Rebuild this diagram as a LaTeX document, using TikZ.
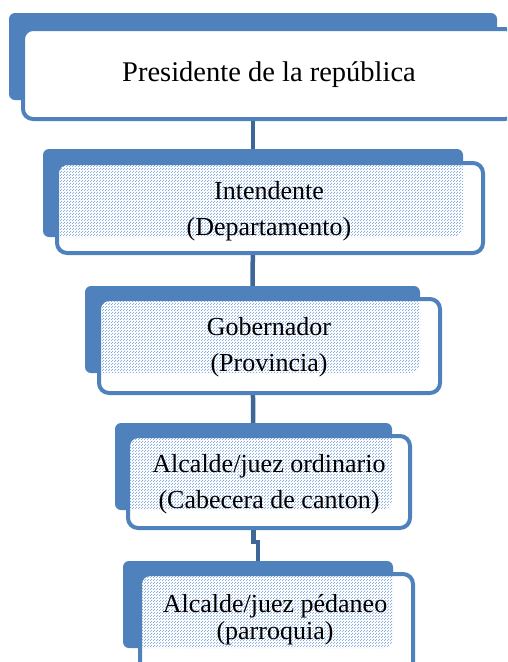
\documentclass[tikz,border=0pt]{standalone}
\usepackage{fontspec}
\setmainfont{Liberation Serif}
\usetikzlibrary{patterns,backgrounds}
\definecolor{boxblue}{RGB}{79,129,189}
\definecolor{linkblue}{RGB}{62,102,150}
\definecolor{dotblue}{RGB}{140,175,225}
\pgfdeclarepatternformonly{bluedots}{\pgfpointorigin}{\pgfpoint{3pt}{3pt}}{\pgfpoint{3pt}{3pt}}{%
  \pgfpathrectangle{\pgfpointorigin}{\pgfpoint{1.2pt}{1.2pt}}%
  \pgfpathrectangle{\pgfpoint{1.5pt}{1.5pt}}{\pgfpoint{1.2pt}{1.2pt}}%
  \pgfusepath{fill}}
\begin{document}
\begin{tikzpicture}[x=1pt,y=-1pt,
  backbox/.style={fill=boxblue, rounded corners=6pt, inner sep=0pt, outer sep=0pt},
  frontbox/.style={draw=boxblue, line width=4pt, fill=white, rounded corners=10pt, inner sep=0pt},
  dotfill/.style={path picture={\fill[pattern=bluedots, pattern color=dotblue] (#1.north west) rectangle (#1.south east);}},
  boxtext/.style={font=\fontsize{26}{36}\selectfont, align=center, inner sep=0pt},
  link/.style={draw=linkblue, line width=4.5pt}]
\useasboundingbox (0,0) rectangle (507,662);
\clip (0,0) rectangle (507,662);

% back (shadow) boxes
\node[backbox, minimum width=488pt, minimum height=87pt] (b1) at (253,56.5) {};
\node[backbox, minimum width=420pt, minimum height=88pt] (b2) at (253,193) {};
\node[backbox, minimum width=335pt, minimum height=87pt] (b3) at (252.5,329.5) {};
\node[backbox, minimum width=277pt, minimum height=87pt] (b4) at (253.5,466.5) {};
\node[backbox, minimum width=270pt, minimum height=87pt] (b5) at (258,604.5) {};

% front boxes
\node[frontbox, minimum width=492pt, minimum height=90pt] (f1) at (269,74) {};
\node[frontbox, dotfill=b2, minimum width=426pt, minimum height=90pt] (f2) at (270,208) {};
\node[frontbox, dotfill=b3, minimum width=341pt, minimum height=94pt] (f3) at (269.5,346) {};
\node[frontbox, dotfill=b4, minimum width=282pt, minimum height=92pt] (f4) at (269,482) {};
\node[frontbox, dotfill=b5, minimum width=273pt, minimum height=100pt] (f5) at (276.5,624) {};

% texts
\node[boxtext, font=\fontsize{28.5}{34}\selectfont] (t1) at (269,75) {Presidente de la república};
\node[boxtext] (t2) at (269,211) {Intendente\\(Departamento)};
\node[boxtext] (t3) at (269,347) {Gobernador\\(Provincia)};
\node[boxtext] (t4) at (269,484) {Alcalde/juez ordinario\\(Cabecera de canton)};
\node[boxtext, font=\fontsize{26}{27}\selectfont] (t5) at (275,620) {Alcalde/juez pédaneo\\(parroquia)};

% connectors
\coordinate (j45) at (253.5,542);
\begin{pgfonlayer}{background}
\draw[link] (b1.center) -- (b2.center);
\draw[link] (b2.center) -- (b3.center);
\draw[link] (b3.center) -- (b4.center);
\draw[link] (b4.center) -- (j45) -| (b5.center);
\end{pgfonlayer}
\end{tikzpicture}
\end{document}
